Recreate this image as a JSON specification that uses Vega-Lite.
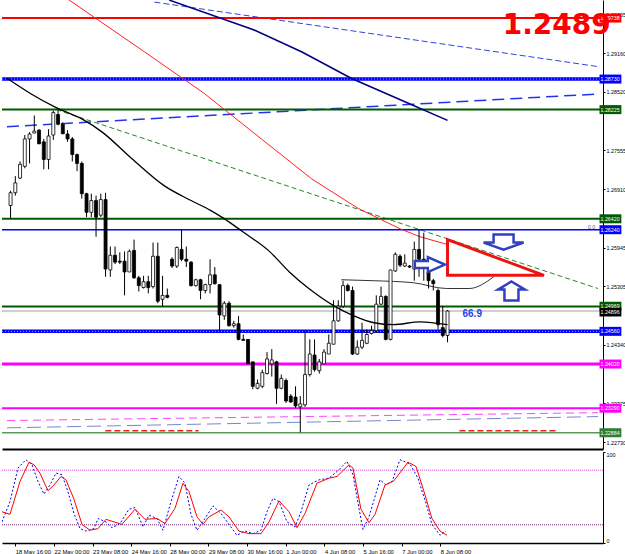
{
 "$schema": "https://vega.github.io/schema/vega-lite/v6.json",
 "padding": 0,
 "background": "white",
 "spacing": 2,
 "config": {"view": {"stroke": null}, "font": "Liberation Sans",
   "axis": {"labelFont": "Liberation Sans", "labelFontSize": 5.4, "labelColor": "#000000", "tickColor": "#000000", "domainColor": "#000000", "grid": false, "title": null, "tickSize": 2, "labelPadding": 1, "zindex": 0}},
 "datasets": {
  "candles": [
   {"i":-2,"o":1.26641,"h":1.26884,"l":1.26431,"c":1.26851},
   {"i":-1,"o":1.26851,"h":1.27126,"l":1.26803,"c":1.27013},
   {"i":0,"o":1.27094,"h":1.27368,"l":1.27078,"c":1.2732},
   {"i":1,"o":1.27288,"h":1.27805,"l":1.27255,"c":1.2774},
   {"i":2,"o":1.2774,"h":1.27853,"l":1.27336,"c":1.27821},
   {"i":3,"o":1.27837,"h":1.28128,"l":1.27837,"c":1.27869},
   {"i":4,"o":1.27886,"h":1.27902,"l":1.27659,"c":1.27659},
   {"i":5,"o":1.27692,"h":1.2774,"l":1.27239,"c":1.27401},
   {"i":6,"o":1.27401,"h":1.27902,"l":1.27239,"c":1.27789},
   {"i":7,"o":1.27805,"h":1.28209,"l":1.27724,"c":1.28176},
   {"i":8,"o":1.28144,"h":1.28209,"l":1.27966,"c":1.27983},
   {"i":9,"o":1.27983,"h":1.28015,"l":1.27821,"c":1.27825},
   {"i":10,"o":1.27821,"h":1.27886,"l":1.27692,"c":1.2774},
   {"i":11,"o":1.2774,"h":1.27772,"l":1.27368,"c":1.27482},
   {"i":12,"o":1.27482,"h":1.27498,"l":1.27207,"c":1.27336},
   {"i":13,"o":1.27336,"h":1.27368,"l":1.26754,"c":1.26835},
   {"i":14,"o":1.26835,"h":1.26851,"l":1.26447,"c":1.26528},
   {"i":15,"o":1.26528,"h":1.26835,"l":1.26447,"c":1.26722},
   {"i":16,"o":1.26722,"h":1.26803,"l":1.26124,"c":1.26447},
   {"i":17,"o":1.2648,"h":1.26835,"l":1.26447,"c":1.26738},
   {"i":18,"o":1.26738,"h":1.26851,"l":1.25462,"c":1.25591},
   {"i":19,"o":1.25575,"h":1.25963,"l":1.25462,"c":1.25817},
   {"i":20,"o":1.25817,"h":1.25963,"l":1.25672,"c":1.25704},
   {"i":21,"o":1.2572,"h":1.25866,"l":1.25672,"c":1.25704},
   {"i":22,"o":1.2572,"h":1.25882,"l":1.25155,"c":1.25542},
   {"i":23,"o":1.25542,"h":1.25914,"l":1.25542,"c":1.25882},
   {"i":24,"o":1.25898,"h":1.26076,"l":1.25429,"c":1.25445},
   {"i":25,"o":1.25445,"h":1.25478,"l":1.25219,"c":1.25316},
   {"i":26,"o":1.25284,"h":1.25478,"l":1.25268,"c":1.25381},
   {"i":27,"o":1.25381,"h":1.25478,"l":1.25187,"c":1.25284},
   {"i":28,"o":1.253,"h":1.26027,"l":1.25268,"c":1.25801},
   {"i":29,"o":1.25801,"h":1.26027,"l":1.25025,"c":1.25058},
   {"i":30,"o":1.2509,"h":1.25478,"l":1.24977,"c":1.25155},
   {"i":31,"o":1.25155,"h":1.25268,"l":1.25106,"c":1.25122},
   {"i":32,"o":1.25752,"h":1.25785,"l":1.25607,"c":1.25639},
   {"i":33,"o":1.25639,"h":1.25963,"l":1.25607,"c":1.25946},
   {"i":34,"o":1.25914,"h":1.26237,"l":1.2572,"c":1.25752},
   {"i":35,"o":1.25752,"h":1.25963,"l":1.25623,"c":1.2572},
   {"i":36,"o":1.25704,"h":1.2572,"l":1.253,"c":1.25316},
   {"i":37,"o":1.25316,"h":1.25429,"l":1.253,"c":1.25413},
   {"i":38,"o":1.25413,"h":1.25429,"l":1.2509,"c":1.25235},
   {"i":39,"o":1.25235,"h":1.25348,"l":1.25187,"c":1.25332},
   {"i":40,"o":1.25332,"h":1.25752,"l":1.25187,"c":1.25494},
   {"i":41,"o":1.25494,"h":1.25623,"l":1.25332,"c":1.25348},
   {"i":42,"o":1.25332,"h":1.25332,"l":1.24573,"c":1.24831},
   {"i":43,"o":1.24815,"h":1.25058,"l":1.2475,"c":1.25025},
   {"i":44,"o":1.25025,"h":1.25058,"l":1.24637,"c":1.24654},
   {"i":45,"o":1.24654,"h":1.24734,"l":1.24621,"c":1.24686},
   {"i":46,"o":1.24686,"h":1.24815,"l":1.24411,"c":1.24427},
   {"i":47,"o":1.24427,"h":1.24508,"l":1.24411,"c":1.24411},
   {"i":48,"o":1.24427,"h":1.24427,"l":1.24023,"c":1.24023},
   {"i":49,"o":1.24056,"h":1.24056,"l":1.23603,"c":1.23652},
   {"i":50,"o":1.23619,"h":1.23765,"l":1.23603,"c":1.237},
   {"i":51,"o":1.23652,"h":1.23926,"l":1.23619,"c":1.23878},
   {"i":52,"o":1.23862,"h":1.24217,"l":1.23846,"c":1.24104},
   {"i":53,"o":1.24023,"h":1.24266,"l":1.23813,"c":1.24088},
   {"i":54,"o":1.24056,"h":1.24072,"l":1.23361,"c":1.23619},
   {"i":55,"o":1.23619,"h":1.23846,"l":1.23603,"c":1.23781},
   {"i":56,"o":1.23749,"h":1.23781,"l":1.23377,"c":1.23409},
   {"i":57,"o":1.2349,"h":1.23522,"l":1.23377,"c":1.23393},
   {"i":58,"o":1.23474,"h":1.23652,"l":1.23296,"c":1.23328},
   {"i":59,"o":1.23312,"h":1.2349,"l":1.22892,"c":1.23361},
   {"i":60,"o":1.23345,"h":1.24573,"l":1.23312,"c":1.23846},
   {"i":61,"o":1.23846,"h":1.24427,"l":1.23813,"c":1.24185},
   {"i":62,"o":1.24169,"h":1.24427,"l":1.23894,"c":1.23926},
   {"i":63,"o":1.2391,"h":1.24104,"l":1.23862,"c":1.24056},
   {"i":64,"o":1.24023,"h":1.24266,"l":1.24023,"c":1.24217},
   {"i":65,"o":1.24185,"h":1.24508,"l":1.24185,"c":1.24363},
   {"i":66,"o":1.24347,"h":1.25074,"l":1.24347,"c":1.24734},
   {"i":67,"o":1.24734,"h":1.25074,"l":1.24718,"c":1.24977},
   {"i":68,"o":1.24977,"h":1.25397,"l":1.24944,"c":1.25316},
   {"i":69,"o":1.25316,"h":1.25348,"l":1.25219,"c":1.25235},
   {"i":70,"o":1.25235,"h":1.253,"l":1.24169,"c":1.24185},
   {"i":71,"o":1.24185,"h":1.24411,"l":1.24169,"c":1.24298},
   {"i":72,"o":1.24298,"h":1.24702,"l":1.24266,"c":1.24411},
   {"i":73,"o":1.24363,"h":1.24589,"l":1.24347,"c":1.24508},
   {"i":74,"o":1.24524,"h":1.24654,"l":1.24508,"c":1.24573},
   {"i":75,"o":1.24573,"h":1.25155,"l":1.2454,"c":1.25009},
   {"i":76,"o":1.25009,"h":1.253,"l":1.24993,"c":1.25138},
   {"i":77,"o":1.25138,"h":1.25155,"l":1.24411,"c":1.24427},
   {"i":78,"o":1.24427,"h":1.25575,"l":1.24411,"c":1.25575},
   {"i":79,"o":1.25558,"h":1.25866,"l":1.25542,"c":1.25833},
   {"i":80,"o":1.25801,"h":1.25833,"l":1.25623,"c":1.25655},
   {"i":81,"o":1.25639,"h":1.25833,"l":1.25623,"c":1.25688},
   {"i":82,"o":1.25639,"h":1.25655,"l":1.25607,"c":1.25623},
   {"i":83,"o":1.25591,"h":1.26043,"l":1.25397,"c":1.25914},
   {"i":84,"o":1.25914,"h":1.26237,"l":1.25462,"c":1.25752},
   {"i":85,"o":1.25752,"h":1.26189,"l":1.25397,"c":1.25623},
   {"i":86,"o":1.25542,"h":1.25559,"l":1.25268,"c":1.25397},
   {"i":87,"o":1.25397,"h":1.25429,"l":1.25235,"c":1.25348},
   {"i":88,"o":1.25235,"h":1.25268,"l":1.24589,"c":1.2467},
   {"i":89,"o":1.24621,"h":1.24977,"l":1.2446,"c":1.24492},
   {"i":90,"o":1.24492,"h":1.24912,"l":1.24379,"c":1.24896}
  ],
  "maBlack": [
   {"i":-2.75,"p":1.28742},{"i":2.0,"p":1.285},{"i":7.6,"p":1.28257},{"i":13.2,"p":1.28063},{"i":17.3,"p":1.27853},{"i":23.5,"p":1.27417},{"i":30.4,"p":1.26964},{"i":36.0,"p":1.26722},{"i":40.1,"p":1.2656},{"i":42.8,"p":1.26431},{"i":46.9,"p":1.26205},{"i":52.5,"p":1.25882},{"i":56.7,"p":1.25542},{"i":60.8,"p":1.25268},{"i":66.2,"p":1.24977},{"i":70.3,"p":1.24815},{"i":74.5,"p":1.24702},{"i":78.6,"p":1.2467},{"i":84.2,"p":1.24718},{"i":90,"p":1.2467}
  ],
  "maRed": [
   {"i":9.7,"p":1.3007},{"i":26.23,"p":1.29178},{"i":38.65,"p":1.285},{"i":51.07,"p":1.27724},{"i":61.43,"p":1.27078},{"i":71.16,"p":1.26593},{"i":80.06,"p":1.26253},{"i":84.2,"p":1.26124},{"i":90,"p":1.25995}
  ],
  "maNavy": [
   {"i":31.4,"p":1.30035},{"i":49.0,"p":1.2955},{"i":59.36,"p":1.29178},{"i":69.7,"p":1.28742},{"i":80.06,"p":1.28387},{"i":90,"p":1.28047}
  ],
  "channel": [
   {"i":67.64,"p":1.25413},{"i":74.47,"p":1.25397},{"i":82.75,"p":1.25364},{"i":89.79,"p":1.25268},{"i":94.55,"p":1.25268},{"i":99.72,"p":1.25462}
  ],
  "trendBlueTop": [{"i":28.3,"p":1.30002},{"i":121.68,"p":1.28936}],
  "trendBlueMid": [{"i":-2.75,"p":1.27942},{"i":121.68,"p":1.28483}],
  "trendGreen": [{"i":7.6,"p":1.28225},{"i":121.68,"p":1.25268}],
  "trendPink": [{"i":-2.75,"p":1.23086},{"i":121.68,"p":1.23216}],
  "trendBlueLow": [{"i":-2.75,"p":1.22965},{"i":121.68,"p":1.23151}],
  "redDash": [{"a":17.95,"b":37.6,"p":1.22916},{"a":92.5,"b":113.2,"p":1.22916}],
  "hlines": [
   {"p":1.29738,"g":"red"},{"p":1.2873,"g":"blue"},{"p":1.28225,"g":"green"},{"p":1.2642,"g":"green"},{"p":1.2624,"g":"bluethin"},{"p":1.24969,"g":"green"},{"p":1.24896,"g":"bid"},{"p":1.2456,"g":"blue"},{"p":1.2402,"g":"magenta"},{"p":1.2329,"g":"magentathin"},{"p":1.22884,"g":"lightgreen"}
  ],
  "plabels": [
   {"p":1.29738,"t":"1.29738","g":"red"},{"p":1.2873,"t":"1.28730","g":"blue"},{"p":1.28225,"t":"1.28225","g":"green"},{"p":1.2642,"t":"1.26420","g":"green"},{"p":1.2624,"t":"1.26240","g":"blue"},{"p":1.24975,"t":"1.24969","g":"green"},{"p":1.2488,"t":"1.24896","g":"bid"},{"p":1.2456,"t":"1.24560","g":"blue"},{"p":1.2402,"t":"1.24020","g":"magenta"},{"p":1.2329,"t":"1.23290","g":"magenta"},{"p":1.22884,"t":"1.22884","g":"lightgreen"}
  ],
  "arrowRight": [{"i":86.27,"p":1.25664}],
  "arrowDown": [{"i":101.8,"p":1.26035}],
  "arrowUp": [{"i":103.46,"p":1.25227}],
  "triangle": [{"i":90.0,"top":1.26076,"bot":1.25486},{"i":110.3,"top":1.25486,"bot":1.25486}],
  "bigText": [{"i":113.0,"p":1.29615,"t":"1.2489"}],
  "smallText": [{"i":95.2,"p":1.24848,"t":"66.9"}],
  "zeroText": [{"i":120.3,"p":1.26286,"t":"0.0"}],
  "stochD": [
   {"i":-2.75,"v":34.3},{"i":-1.1,"v":31.5},{"i":0.97,"v":67.5},{"i":2.84,"v":88.8},{"i":3.87,"v":86.0},{"i":5.11,"v":76.8},{"i":6.77,"v":57.4},{"i":8.01,"v":63.8},{"i":9.46,"v":73.1},{"i":10.5,"v":69.4},{"i":12.15,"v":48.1},{"i":13.81,"v":20.5},{"i":15.47,"v":14.0},{"i":17.12,"v":15.8},{"i":18.78,"v":26.0},{"i":20.43,"v":23.2},{"i":22.09,"v":20.5},{"i":24.78,"v":37.1},{"i":26.85,"v":26.0},{"i":29.34,"v":26.9},{"i":31.0,"v":21.4},{"i":33.06,"v":38.0},{"i":34.72,"v":65.7},{"i":35.96,"v":56.5},{"i":37.62,"v":28.8},{"i":38.86,"v":20.5},{"i":40.1,"v":28.8},{"i":42.59,"v":36.2},{"i":44.24,"v":28.8},{"i":46.31,"v":13.1},{"i":48.38,"v":10.3},{"i":50.87,"v":10.3},{"i":52.53,"v":23.2},{"i":54.6,"v":46.3},{"i":56.67,"v":34.3},{"i":58.33,"v":16.8},{"i":59.98,"v":32.5},{"i":62.46,"v":65.7},{"i":64.95,"v":71.2},{"i":66.61,"v":73.1},{"i":69.09,"v":86.0},{"i":69.92,"v":82.3},{"i":71.57,"v":37.1},{"i":73.23,"v":22.3},{"i":74.48,"v":31.5},{"i":76.55,"v":63.8},{"i":78.41,"v":68.5},{"i":81.3,"v":88.8},{"i":82.96,"v":84.2},{"i":84.62,"v":56.5},{"i":86.27,"v":26.9},{"i":87.93,"v":13.1},{"i":89.38,"v":8.5}
  ],
  "stochK": [
   {"i":-2.75,"v":23.2},{"i":-1.1,"v":45.4},{"i":0.56,"v":82.3},{"i":2.2,"v":91.5},{"i":3.46,"v":86.0},{"i":4.7,"v":67.5},{"i":5.94,"v":53.7},{"i":7.18,"v":63.8},{"i":8.43,"v":76.8},{"i":9.67,"v":75.0},{"i":10.91,"v":56.5},{"i":12.15,"v":32.5},{"i":13.4,"v":15.8},{"i":14.64,"v":13.1},{"i":16.29,"v":15.8},{"i":17.12,"v":26.9},{"i":18.78,"v":23.2},{"i":20.02,"v":16.8},{"i":21.68,"v":21.4},{"i":23.54,"v":37.1},{"i":24.78,"v":39.0},{"i":26.44,"v":17.7},{"i":27.68,"v":30.6},{"i":29.34,"v":26.9},{"i":30.58,"v":14.0},{"i":32.23,"v":45.4},{"i":33.89,"v":73.1},{"i":35.13,"v":65.7},{"i":36.38,"v":31.5},{"i":37.62,"v":14.0},{"i":39.27,"v":26.9},{"i":40.93,"v":40.8},{"i":42.59,"v":32.5},{"i":44.24,"v":20.5},{"i":45.9,"v":8.5},{"i":47.55,"v":13.1},{"i":49.21,"v":10.3},{"i":50.87,"v":14.0},{"i":52.11,"v":34.3},{"i":53.35,"v":49.1},{"i":54.6,"v":45.4},{"i":56.25,"v":23.2},{"i":57.91,"v":17.7},{"i":59.16,"v":34.3},{"i":60.81,"v":63.8},{"i":62.88,"v":69.4},{"i":64.95,"v":71.2},{"i":67.02,"v":80.5},{"i":68.68,"v":89.7},{"i":69.92,"v":75.0},{"i":71.16,"v":38.0},{"i":71.99,"v":14.9},{"i":73.23,"v":28.8},{"i":75.51,"v":69.4},{"i":76.75,"v":63.8},{"i":78.0,"v":67.5},{"i":79.65,"v":91.5},{"i":81.72,"v":86.9},{"i":83.37,"v":71.2},{"i":85.03,"v":43.5},{"i":86.27,"v":20.5},{"i":87.93,"v":8.5},{"i":89.17,"v":13.1}
  ]
 },
 "vconcat": [
  {
   "width": 601, "height": 449,
   "layer": [
    {"data": {"name": "hlines"}, "transform": [{"filter": "datum.g == 'bid'"}], "mark": {"type": "rule", "color": "#a0a0a0", "strokeWidth": 1},
     "encoding": {"y": {"field": "p", "type": "quantitative", "scale": {"domain": [1.22698, 1.29954], "nice": false, "zero": false},
        "axis": {"orient": "right", "values": [1.29805,1.29485,1.2916,1.2884,1.2852,1.27875,1.27555,1.27235,1.2691,1.2659,1.25945,1.25625,1.25305,1.2466,1.2434,1.23695,1.23375,1.23055,1.2273], "format": ".5f", "domain": true}}}},
    {"data": {"name": "trendBlueTop"}, "mark": {"type": "line", "color": "#3344dd", "strokeWidth": 1, "strokeDash": [6, 3], "clip": true},
     "encoding": {"x": {"field": "i", "type": "quantitative", "scale": {"domain": [-2.75, 121.68], "nice": false, "zero": false},
        "axis": {"orient": "bottom", "labels": false, "ticks": false, "domainWidth": 2, "domainColor": "#000000"}},
      "y": {"field": "p", "type": "quantitative"}}},
    {"data": {"name": "trendBlueMid"}, "mark": {"type": "line", "color": "#2233ee", "strokeWidth": 1.5, "strokeDash": [12, 6], "clip": true},
     "encoding": {"x": {"field": "i", "type": "quantitative"}, "y": {"field": "p", "type": "quantitative"}}},
    {"data": {"name": "trendGreen"}, "mark": {"type": "line", "color": "#228822", "strokeWidth": 1, "strokeDash": [5, 3], "clip": true},
     "encoding": {"x": {"field": "i", "type": "quantitative"}, "y": {"field": "p", "type": "quantitative"}}},
    {"data": {"name": "trendPink"}, "mark": {"type": "line", "color": "#ff44ff", "strokeWidth": 1, "strokeDash": [8, 5], "clip": true},
     "encoding": {"x": {"field": "i", "type": "quantitative"}, "y": {"field": "p", "type": "quantitative"}}},
    {"data": {"name": "trendBlueLow"}, "mark": {"type": "line", "color": "#7788cc", "strokeWidth": 1, "strokeDash": [14, 6], "clip": true},
     "encoding": {"x": {"field": "i", "type": "quantitative"}, "y": {"field": "p", "type": "quantitative"}}},
    {"data": {"name": "hlines"}, "transform": [{"filter": "datum.g == 'red'"}], "mark": {"type": "rule", "color": "#ff0000", "strokeWidth": 2},
     "encoding": {"y": {"field": "p", "type": "quantitative"}}},
    {"data": {"name": "hlines"}, "transform": [{"filter": "datum.g == 'blue'"}], "mark": {"type": "rule", "color": "#0000ff", "strokeWidth": 3.5},
     "encoding": {"y": {"field": "p", "type": "quantitative"}}},
    {"data": {"name": "hlines"}, "transform": [{"filter": "datum.g == 'blue'"}], "mark": {"type": "rule", "color": "#9999ff", "strokeWidth": 1, "strokeDash": [1, 2]},
     "encoding": {"y": {"field": "p", "type": "quantitative"}}},
    {"data": {"name": "hlines"}, "transform": [{"filter": "datum.g == 'bluethin'"}], "mark": {"type": "rule", "color": "#0000ff", "strokeWidth": 1.5},
     "encoding": {"y": {"field": "p", "type": "quantitative"}}},
    {"data": {"name": "hlines"}, "transform": [{"filter": "datum.g == 'green'"}], "mark": {"type": "rule", "color": "#005a00", "strokeWidth": 2},
     "encoding": {"y": {"field": "p", "type": "quantitative"}}},
    {"data": {"name": "hlines"}, "transform": [{"filter": "datum.g == 'lightgreen'"}], "mark": {"type": "rule", "color": "#5a9a5a", "strokeWidth": 1.5},
     "encoding": {"y": {"field": "p", "type": "quantitative"}}},
    {"data": {"name": "hlines"}, "transform": [{"filter": "datum.g == 'magenta'"}], "mark": {"type": "rule", "color": "#ff00ff", "strokeWidth": 3},
     "encoding": {"y": {"field": "p", "type": "quantitative"}}},
    {"data": {"name": "hlines"}, "transform": [{"filter": "datum.g == 'magentathin'"}], "mark": {"type": "rule", "color": "#ff00ff", "strokeWidth": 2},
     "encoding": {"y": {"field": "p", "type": "quantitative"}}},
    {"data": {"name": "redDash"}, "mark": {"type": "rule", "color": "#ee2222", "strokeWidth": 1.5, "strokeDash": [6, 3]},
     "encoding": {"x": {"field": "a", "type": "quantitative"}, "x2": {"field": "b"}, "y": {"field": "p", "type": "quantitative"}}},
    {"data": {"name": "maRed"}, "mark": {"type": "line", "color": "#ff2020", "strokeWidth": 1, "clip": true},
     "encoding": {"x": {"field": "i", "type": "quantitative"}, "y": {"field": "p", "type": "quantitative"}}},
    {"data": {"name": "maNavy"}, "mark": {"type": "line", "color": "#000080", "strokeWidth": 1.6, "clip": true},
     "encoding": {"x": {"field": "i", "type": "quantitative"}, "y": {"field": "p", "type": "quantitative"}}},
    {"data": {"name": "channel"}, "mark": {"type": "line", "color": "#000000", "strokeWidth": 0.8, "interpolate": "monotone"},
     "encoding": {"x": {"field": "i", "type": "quantitative"}, "y": {"field": "p", "type": "quantitative"}}},
    {"data": {"name": "candles"}, "mark": {"type": "rule", "color": "#000000", "strokeWidth": 1, "clip": true},
     "encoding": {"x": {"field": "i", "type": "quantitative"}, "y": {"field": "l", "type": "quantitative"}, "y2": {"field": "h"}}},
    {"data": {"name": "candles"}, "mark": {"type": "bar", "size": 3, "stroke": "#000000", "strokeWidth": 0.8, "clip": true},
     "encoding": {"x": {"field": "i", "type": "quantitative"}, "y": {"field": "o", "type": "quantitative"}, "y2": {"field": "c"},
      "fill": {"condition": {"test": "datum.c >= datum.o", "value": "#ffffff"}, "value": "#000000"}}},
    {"data": {"name": "maBlack"}, "mark": {"type": "line", "color": "#000000", "strokeWidth": 1.3, "interpolate": "monotone", "clip": true},
     "encoding": {"x": {"field": "i", "type": "quantitative"}, "y": {"field": "p", "type": "quantitative"}}},
    {"data": {"name": "triangle"}, "mark": {"type": "area", "fill": "#ffffff", "stroke": "#ee1111", "strokeWidth": 3, "fillOpacity": 1},
     "encoding": {"x": {"field": "i", "type": "quantitative"}, "y": {"field": "top", "type": "quantitative"}, "y2": {"field": "bot"}}},
    {"data": {"name": "arrowRight"}, "mark": {"type": "point", "shape": "M-1,-0.23 L-0.13,-0.23 L-0.13,-0.5 L1,0 L-0.13,0.5 L-0.13,0.23 L-1,0.23 Z", "size": 900, "filled": true, "fill": "#ffffff", "stroke": "#3040c0", "strokeWidth": 2.5, "opacity": 1},
     "encoding": {"x": {"field": "i", "type": "quantitative"}, "y": {"field": "p", "type": "quantitative"}}},
    {"data": {"name": "arrowDown"}, "mark": {"type": "point", "shape": "M-0.5,-0.375 L0.5,-0.375 L0.5,0.025 L1,0.025 L0,0.375 L-1,0.025 L-0.5,0.025 Z", "size": 1600, "filled": true, "fill": "#ffffff", "stroke": "#3040c0", "strokeWidth": 2.5, "opacity": 1},
     "encoding": {"x": {"field": "i", "type": "quantitative"}, "y": {"field": "p", "type": "quantitative"}}},
    {"data": {"name": "arrowUp"}, "mark": {"type": "point", "shape": "M0,-0.68 L0.96,-0.1 L0.5,-0.1 L0.5,0.68 L-0.5,0.68 L-0.5,-0.1 L-0.96,-0.1 Z", "size": 784, "filled": true, "fill": "#ffffff", "stroke": "#3040c0", "strokeWidth": 2.5, "opacity": 1},
     "encoding": {"x": {"field": "i", "type": "quantitative"}, "y": {"field": "p", "type": "quantitative"}}},
    {"data": {"name": "smallText"}, "mark": {"type": "text", "font": "Liberation Sans", "fontWeight": "bold", "fontSize": 10, "color": "#2244ee", "align": "center", "baseline": "middle"},
     "encoding": {"x": {"field": "i", "type": "quantitative"}, "y": {"field": "p", "type": "quantitative"}, "text": {"field": "t"}}},
    {"data": {"name": "zeroText"}, "mark": {"type": "text", "fontSize": 5.4, "color": "#666699", "align": "center", "baseline": "middle"},
     "encoding": {"x": {"field": "i", "type": "quantitative"}, "y": {"field": "p", "type": "quantitative"}, "text": {"field": "t"}}},
    {"data": {"name": "plabels"}, "mark": {"type": "bar", "size": 9, "orient": "horizontal"},
     "encoding": {"x": {"datum": 122.0, "type": "quantitative"}, "x2": {"datum": 126.6}, "y": {"field": "p", "type": "quantitative"},
      "color": {"field": "g", "type": "nominal", "legend": null, "scale": {"domain": ["red","blue","green","bid","magenta","lightgreen"], "range": ["#ff0000","#0000ff","#005a00","#000000","#ff00ff","#2e7d32"]}}}},
    {"data": {"name": "plabels"}, "mark": {"type": "text", "fontSize": 5.3, "color": "#ffffff", "align": "left", "baseline": "middle"},
     "encoding": {"x": {"datum": 122.2, "type": "quantitative"}, "y": {"field": "p", "type": "quantitative"}, "text": {"field": "t"}}},
    {"data": {"name": "bigText"}, "mark": {"type": "text", "font": "DejaVu Sans", "fontWeight": "bold", "fontSize": 28, "color": "#ff0000", "align": "center", "baseline": "middle"},
     "encoding": {"x": {"field": "i", "type": "quantitative"}, "y": {"field": "p", "type": "quantitative"}, "text": {"field": "t"}}}
   ]
  },
  {
   "width": 601, "height": 91,
   "layer": [
    {"data": {"values": [{"lv": 80}]}, "mark": {"type": "rule", "color": "#cc55cc", "strokeWidth": 1, "strokeDash": [1, 1]},
     "encoding": {"y": {"field": "lv", "type": "quantitative", "scale": {"domain": [0, 100], "nice": false, "zero": false},
       "axis": {"orient": "right", "values": [0, 20, 80, 100], "domain": true, "labelFlush": true}}}},
    {"data": {"values": [{"lv": 20}]}, "mark": {"type": "rule", "color": "#772277", "strokeWidth": 1, "strokeDash": [1, 1]},
     "encoding": {"y": {"field": "lv", "type": "quantitative"}}},
    {"data": {"name": "stochK"}, "mark": {"type": "line", "color": "#0000ff", "strokeWidth": 1, "strokeDash": [2, 2], "clip": true},
     "encoding": {"x": {"field": "i", "type": "quantitative", "scale": {"domain": [-2.75, 121.68], "nice": false, "zero": false},
        "axis": {"orient": "bottom", "values": [0,8,16,24,32,40,48,56,64,72,80,88], "labelExpr": "['18 May 16:00','22 May 00:00','23 May 08:00','24 May 16:00','28 May 00:00','29 May 08:00','30 May 16:00','1 Jun 00:00','4 Jun 08:00','5 Jun 16:00','7 Jun 00:00','8 Jun 08:00'][round(datum.value/8)]", "labelAlign": "left", "labelOverlap": false, "labelFlush": false, "labelPadding": 2, "labelFontSize": 5.8, "tickSize": 3, "domainWidth": 1.5}},
      "y": {"field": "v", "type": "quantitative"}}},
    {"data": {"name": "stochD"}, "mark": {"type": "line", "color": "#ff0000", "strokeWidth": 1, "clip": true},
     "encoding": {"x": {"field": "i", "type": "quantitative"}, "y": {"field": "v", "type": "quantitative"}}}
   ]
  }
 ]
}
